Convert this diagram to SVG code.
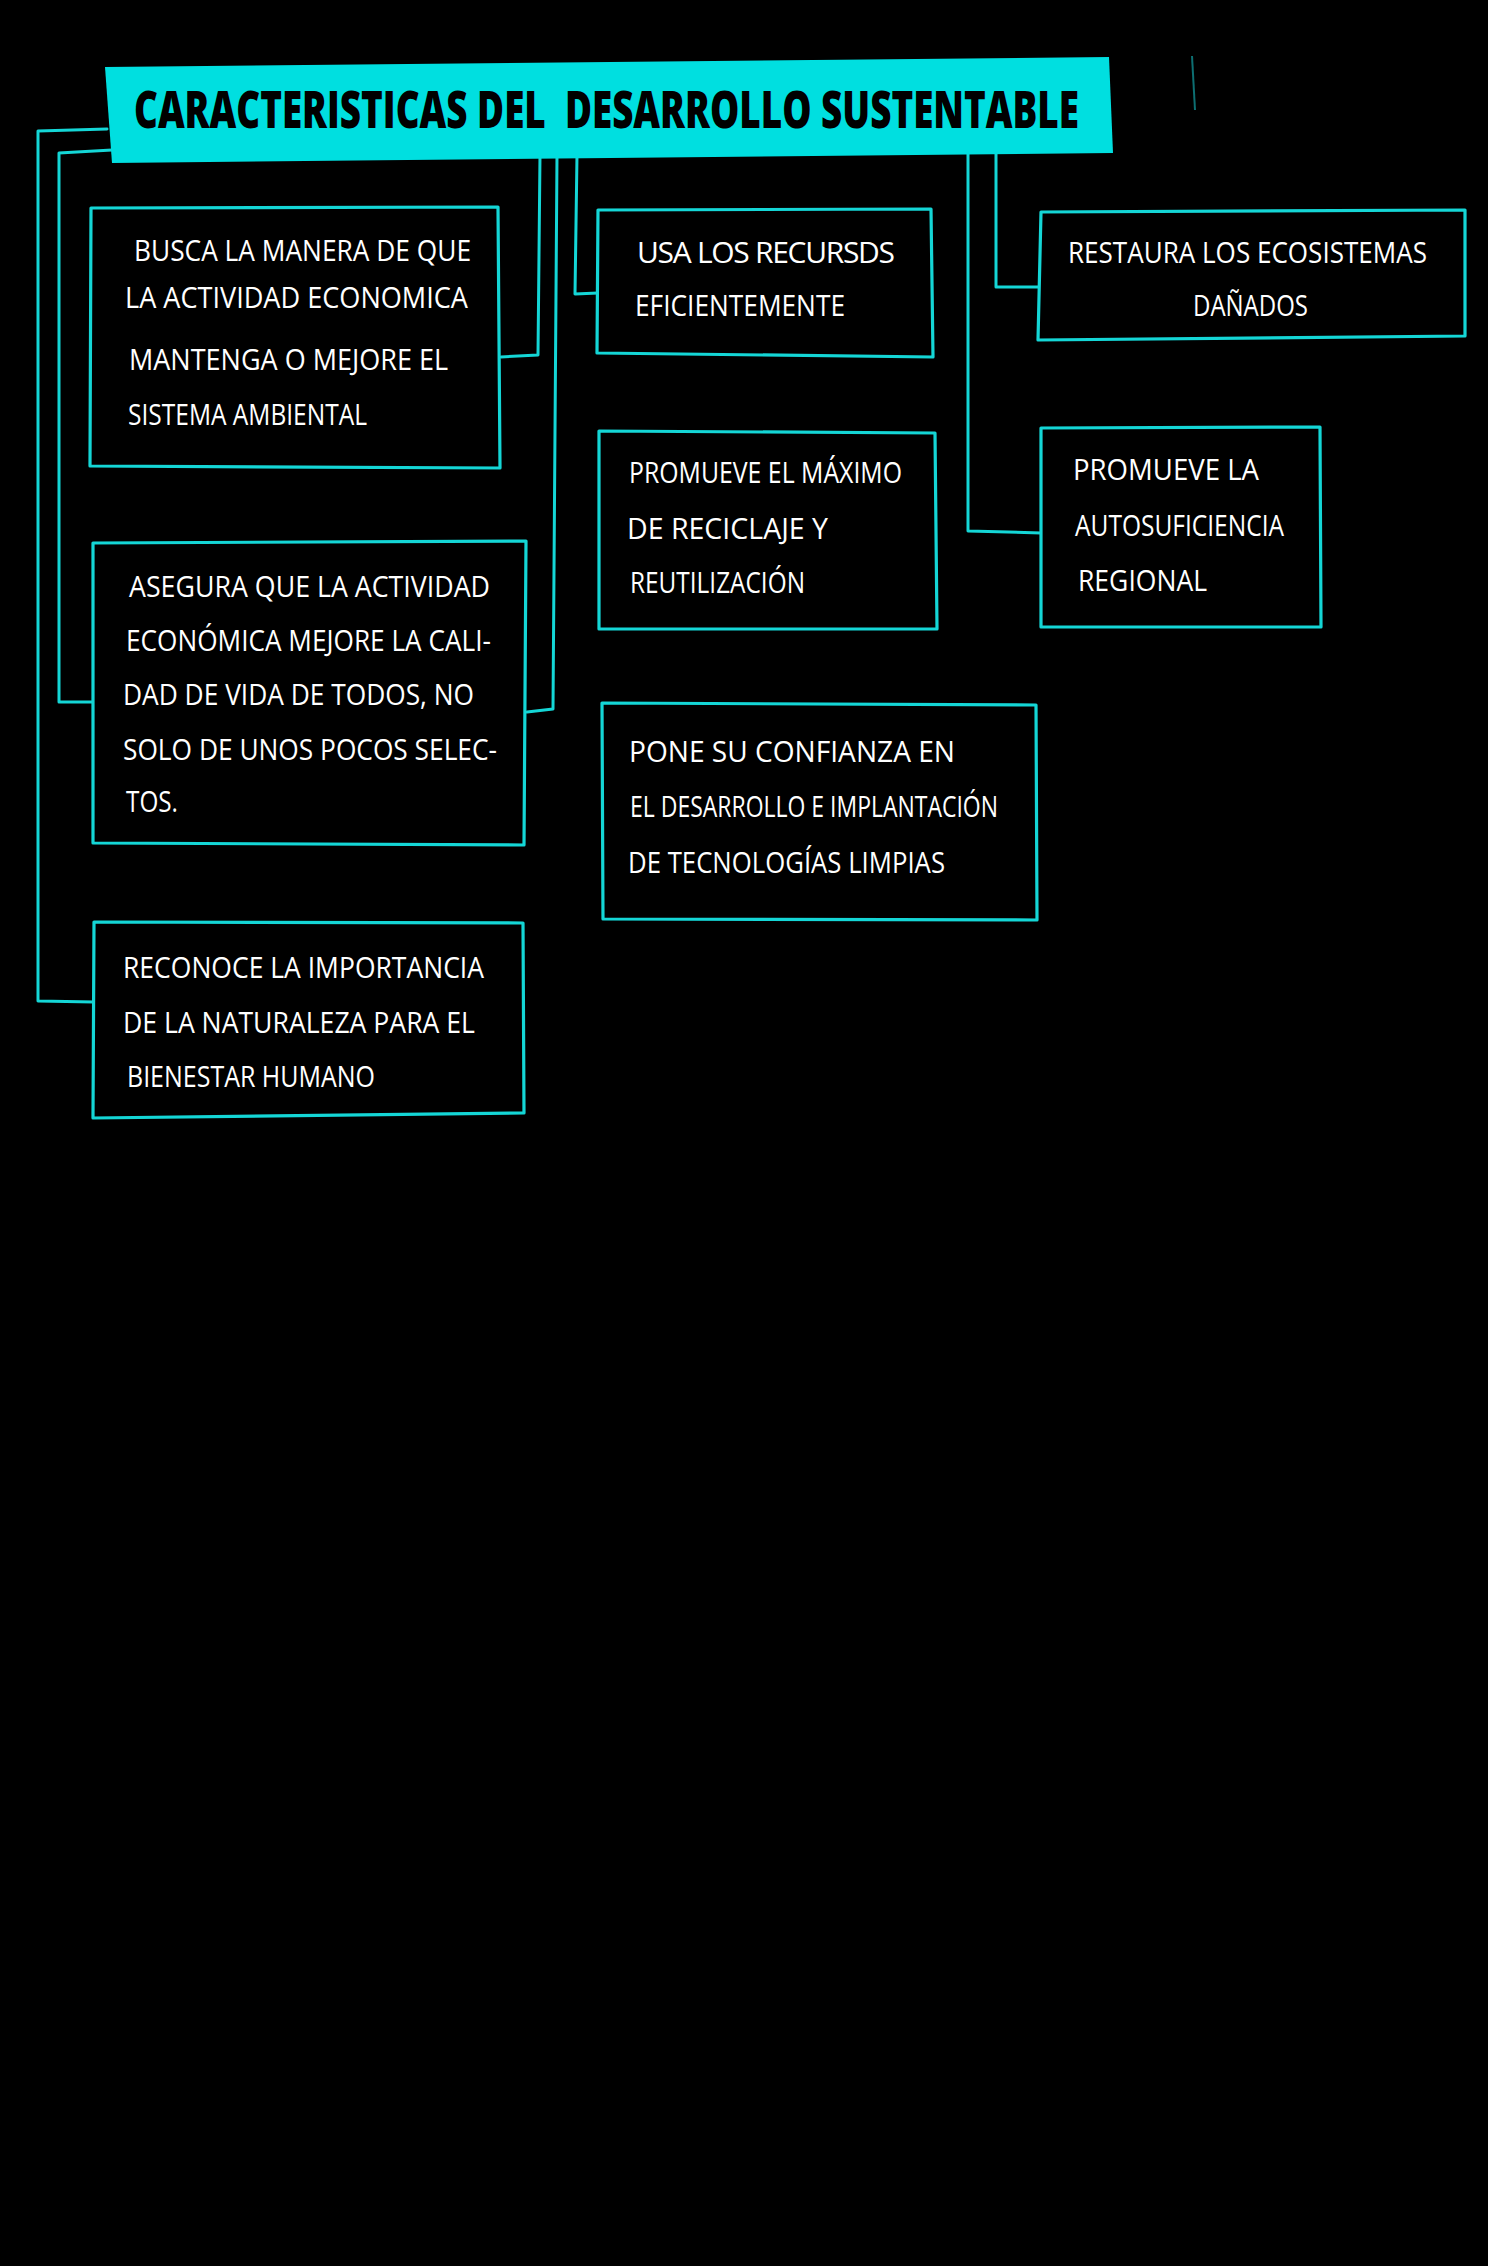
<svg xmlns="http://www.w3.org/2000/svg" width="1488" height="2266" viewBox="0 0 1488 2266">
<style>
.bg{fill:#000}
.ln{fill:none;stroke:#14d6d6;stroke-width:3;stroke-linejoin:round;stroke-linecap:round}
.box{fill:#000;stroke:#14d6d6;stroke-width:3.2;stroke-linejoin:round}
.t{fill:#fff;font-family:"Open Sans","Noto Sans","Liberation Sans",sans-serif;font-size:30px}
.title{fill:#000;font-family:"Open Sans","Noto Sans","Liberation Sans",sans-serif;font-size:52px;font-weight:800;white-space:pre}
</style>
<rect class="bg" x="0" y="0" width="1488" height="2266"/>
<line x1="1192" y1="56" x2="1195" y2="110" stroke="#0d6f72" stroke-width="2"/>
<g id="connectors">
<polyline class="ln" points="107,129 38,131 38,1001 94,1002"/>
<polyline class="ln" points="112,150 59,153 59,702 93,702"/>
<polyline class="ln" points="501,357 538,355 540,155"/>
<polyline class="ln" points="527,712 553,709 557,155"/>
<polyline class="ln" points="577,155 575,294 598,293"/>
<polyline class="ln" points="996,150 996,287 1039,287"/>
<polyline class="ln" points="968,150 968,531 1041,533"/>
</g>
<g id="title">
<polygon points="105,67 1109,57 1113,153 112,163" fill="#00dfe0"/>
<text class="title" x="134" y="128" textLength="945" lengthAdjust="spacingAndGlyphs" xml:space="preserve">CARACTERISTICAS DEL  DESARROLLO SUSTENTABLE</text>
</g>
<g id="n-busca">
<polygon class="box" points="91,208 498,207 500,468 90,466"/>
<text class="t" x="134" y="261" textLength="337" lengthAdjust="spacingAndGlyphs">BUSCA LA MANERA DE QUE</text>
<text class="t" x="125" y="308" textLength="343" lengthAdjust="spacingAndGlyphs">LA ACTIVIDAD  ECONOMICA</text>
<text class="t" x="129" y="370" textLength="319" lengthAdjust="spacingAndGlyphs">MANTENGA O MEJORE EL</text>
<text class="t" x="128" y="425" textLength="239" lengthAdjust="spacingAndGlyphs">SISTEMA AMBIENTAL</text>
</g>
<g id="n-asegura">
<polygon class="box" points="93,543 526,541 524,845 93,843"/>
<text class="t" x="129" y="597" textLength="361" lengthAdjust="spacingAndGlyphs">ASEGURA QUE LA ACTIVIDAD</text>
<text class="t" x="126" y="651" textLength="365" lengthAdjust="spacingAndGlyphs">ECONÓMICA MEJORE LA CALI-</text>
<text class="t" x="123" y="705" textLength="351" lengthAdjust="spacingAndGlyphs">DAD DE VIDA DE TODOS, NO</text>
<text class="t" x="123" y="760" textLength="374" lengthAdjust="spacingAndGlyphs">SOLO DE UNOS POCOS SELEC-</text>
<text class="t" x="126" y="812" textLength="52" lengthAdjust="spacingAndGlyphs">TOS.</text>
</g>
<g id="n-reconoce">
<polygon class="box" points="94,922 523,923 524,1113 93,1118"/>
<text class="t" x="123" y="978" textLength="361" lengthAdjust="spacingAndGlyphs">RECONOCE LA IMPORTANCIA</text>
<text class="t" x="123" y="1033" textLength="352" lengthAdjust="spacingAndGlyphs">DE LA NATURALEZA PARA EL</text>
<text class="t" x="127" y="1087" textLength="248" lengthAdjust="spacingAndGlyphs">BIENESTAR HUMANO</text>
</g>
<g id="n-usa">
<polygon class="box" points="598,210 931,209 933,357 597,353"/>
<text class="t" x="637" y="263" textLength="258" lengthAdjust="spacing">USA LOS RECURSDS</text>
<text class="t" x="635" y="316" textLength="210" lengthAdjust="spacingAndGlyphs">EFICIENTEMENTE</text>
</g>
<g id="n-maximo">
<polygon class="box" points="599,431 935,433 937,629 599,629"/>
<text class="t" x="629" y="483" textLength="273" lengthAdjust="spacingAndGlyphs">PROMUEVE EL MÁXIMO</text>
<text class="t" x="627" y="539" textLength="201" lengthAdjust="spacingAndGlyphs">DE RECICLAJE Y</text>
<text class="t" x="630" y="593" textLength="175" lengthAdjust="spacingAndGlyphs">REUTILIZACIÓN</text>
</g>
<g id="n-pone">
<polygon class="box" points="602,703 1036,705 1037,920 603,919"/>
<text class="t" x="629" y="762" textLength="326" lengthAdjust="spacingAndGlyphs">PONE SU CONFIANZA EN</text>
<text class="t" x="630" y="817" textLength="368" lengthAdjust="spacingAndGlyphs">EL DESARROLLO E IMPLANTACIÓN</text>
<text class="t" x="628" y="873" textLength="317" lengthAdjust="spacingAndGlyphs">DE TECNOLOGÍAS LIMPIAS</text>
</g>
<g id="n-restaura">
<polygon class="box" points="1041,212 1465,210 1465,336 1038,340"/>
<text class="t" x="1068" y="263" textLength="359" lengthAdjust="spacingAndGlyphs">RESTAURA LOS ECOSISTEMAS</text>
<text class="t" x="1193" y="316" textLength="115" lengthAdjust="spacingAndGlyphs">DAÑADOS</text>
</g>
<g id="n-autosuficiencia">
<polygon class="box" points="1041,428 1320,427 1321,627 1041,627"/>
<text class="t" x="1073" y="480" textLength="186" lengthAdjust="spacingAndGlyphs">PROMUEVE LA</text>
<text class="t" x="1075" y="536" textLength="209" lengthAdjust="spacingAndGlyphs">AUTOSUFICIENCIA</text>
<text class="t" x="1078" y="591" textLength="129" lengthAdjust="spacingAndGlyphs">REGIONAL</text>
</g>
</svg>
